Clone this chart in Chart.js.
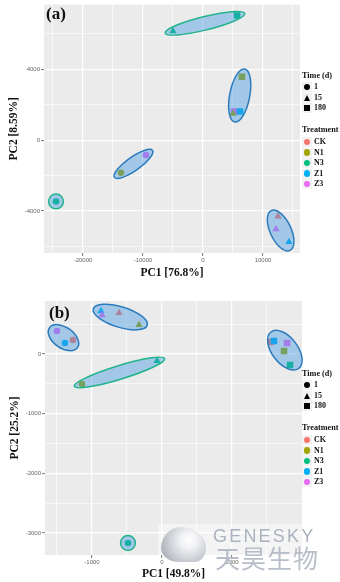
<!DOCTYPE html>
<html>
<head>
<meta charset="utf-8">
<script src="https://cdn.jsdelivr.net/npm/chart.js@4.4.1/dist/chart.umd.min.js"></script>
<style>
  html, body { margin: 0; padding: 0; background: #fff; }
  #page { position: relative; width: 340px; height: 582px; overflow: hidden; }
  canvas { position: absolute; left: 0; }
  .tag { position: absolute; font: bold 17px "Liberation Serif", serif; color: #111; line-height: 17px; }
  .lg { position: absolute; left: 302px; width: 40px; font-family: "Liberation Serif", serif; font-weight: bold; color: #111; }
  .lgTitle { position: absolute; left: 0; white-space: nowrap; font-size: 8.2px; line-height: 10px; }
  .lgItem { position: absolute; left: 0; height: 10px; white-space: nowrap; font-size: 8px; line-height: 10px; }
  .lgItem span { position: absolute; left: 12px; top: 0; }
  .key { position: absolute; left: 0; top: 0; width: 10px; height: 10px; background: #f2f2f2; }
  .key i { position: absolute; display: block; }
  #wmBox { position: absolute; left: 158px; top: 524px; width: 144px; height: 31px; background: rgba(255,255,255,0.45); }
  #wmLogo { position: absolute; left: 161px; top: 527px; width: 45px; height: 35px;
    border-radius: 45% 55% 25% 40% / 60% 60% 40% 40%;
    background: radial-gradient(circle at 62% 38%, #ffffff 0, #f2f3f5 22%, #c9ccd2 55%, #8f949c 100%); opacity: 0.9; }
  #wmEn { position: absolute; left: 213px; top: 526px; font: 18px "Liberation Sans", sans-serif; letter-spacing: 2.2px; color: #aab2bf; line-height: 20px; }
  #wmCn { position: absolute; left: 215px; top: 543px; font: 25px "Noto Sans CJK SC", sans-serif; color: #b7bec9; line-height: 28px; letter-spacing: 1px; }
</style>
</head>
<body>
<div id="page">
  <canvas id="chartA" width="340" height="286" style="top:0"></canvas>
  <canvas id="chartB" width="340" height="292" style="top:290px"></canvas>
  <div class="tag" style="left:46px;top:5px">(a)</div>
  <div class="tag" style="left:49px;top:304px">(b)</div>
  <div id="wmBox"></div>
  <div id="wmLogo"></div>
  <div id="wmEn">GENESKY</div>
  <div id="wmCn">天昊生物</div>
</div>
<script>
// legend categories
var treatments = ['CK', 'N1', 'N3', 'Z1', 'Z3'];
var treatColors = ['#F8766D', '#A3A500', '#00BF7D', '#00B0F6', '#E76BF3'];
var times = ['1', '15', '180'];
var timeShapes = ['circle', 'triangle', 'rect'];

// panel (a) samples
var aPC1 = [-5000, 5670, 6500, 5170, 5000, 6170, -13670, -9500, -24500, 12500, 12170, 14330];
var aPC2 = [6150, 7040, 3580, 1620, 1500, 1620, -1840, -840, -3460, -4300, -5030, -5750];
var aTreat = ['N3', 'N3', 'N1', 'Z3', 'N1', 'Z1', 'N1', 'Z3', 'N3', 'CK', 'Z3', 'Z1'];
var aTime = ['15', '180', '180', '180', '15', '180', '1', '1', '1', '15', '15', '15'];
var aGroups = [[0, 1], [2, 3, 4, 5], [6, 7], [8], [9, 10, 11]];
// panel (a) axis breaks (labelled / minor grid)
var aXLabels = [-20000, -10000, 0, 10000];
var aXMinor = [-25000, -15000, -5000, 5000, 15000];
var aYLabels = [-4000, 0, 4000];
var aYMinor = [-6000, -2000, 2000, 6000];

// panel (b) samples
var bPC1 = [-1500, -1386, -1271, -871, -857, -614, -329, -1143, -71, 1557, 1600, 1786, 1743, 1829, -486];
var bPC2 = [385, 184, 234, 720, 653, 687, 486, -502, -117, 201, 218, 184, 50, -184, -3166];
var bTreat = ['Z3', 'Z1', 'CK', 'Z1', 'Z3', 'CK', 'N1', 'N1', 'N3', 'CK', 'Z1', 'Z3', 'N1', 'N3', 'N3'];
var bTime = ['1', '1', '1', '15', '15', '15', '15', '1', '15', '180', '180', '180', '180', '180', '1'];
var bGroups = [[0, 1, 2], [3, 4, 5, 6], [7, 8], [9, 10, 11, 12, 13], [14]];
// panel (b) axis breaks
var bXLabels = [-1000, 0, 1000];
var bXMinor = [-1500, -500, 500, 1500];
var bYLabels = [-3000, -2000, -1000, 0];
var bYMinor = [-2500, -1500, -500, 500];

var BLUE = '#2b7bbd', GREEN = '#20b38c';
var aGroupStroke = [GREEN, BLUE, BLUE, GREEN, BLUE];
var bGroupStroke = [BLUE, BLUE, GREEN, BLUE, GREEN];
var shapeRadius = { circle: 3.3, triangle: 4.2, rect: 4.6 };

function makeDataset(pc1, pc2, treat, time) {
  var pts = [], styles = [], radii = [], cols = [];
  for (var i = 0; i < pc1.length; i++) {
    var shape = timeShapes[times.indexOf(time[i])];
    pts.push({ x: pc1[i], y: pc2[i] });
    styles.push(shape);
    radii.push(shapeRadius[shape]);
    cols.push(treatColors[treatments.indexOf(treat[i])]);
  }
  return {
    data: pts, pointStyle: styles, pointRadius: radii,
    pointBackgroundColor: cols, pointBorderWidth: 0, showLine: false
  };
}

// ellipses drawn over the points, sized from the member points
function makeEllipsePlugin(groups, strokes) {
  return {
    id: 'ellipses',
    afterDatasetsDraw: function(chart) {
      var xs = chart.scales.x, ys = chart.scales.y, ctx = chart.ctx;
      var d = chart.data.datasets[0].data;
      groups.forEach(function(g, k) {
        var px = [], py = [], n = g.length, mx = 0, my = 0;
        g.forEach(function(i) {
          px.push(xs.getPixelForValue(d[i].x));
          py.push(ys.getPixelForValue(d[i].y));
        });
        for (var i = 0; i < n; i++) { mx += px[i] / n; my += py[i] / n; }
        var sxx = 0, syy = 0, sxy = 0;
        for (i = 0; i < n; i++) {
          sxx += (px[i] - mx) * (px[i] - mx);
          syy += (py[i] - my) * (py[i] - my);
          sxy += (px[i] - mx) * (py[i] - my);
        }
        var ang = n > 1 ? 0.5 * Math.atan2(2 * sxy, sxx - syy) : 0;
        var c = Math.cos(ang), s = Math.sin(ang);
        var u = [], v = [];
        for (i = 0; i < n; i++) {
          var dx = px[i] - mx, dy = py[i] - my;
          u.push(dx * c + dy * s);
          v.push(-dx * s + dy * c);
        }
        var uMin = Math.min.apply(null, u), uMax = Math.max.apply(null, u);
        var vMin = Math.min.apply(null, v), vMax = Math.max.apply(null, v);
        var uc = (uMin + uMax) / 2, vc = (vMin + vMax) / 2;
        var cx = mx + uc * c - vc * s, cy = my + uc * s + vc * c;
        var a = (uMax - uMin) / 2 + 8, b = (vMax - vMin) / 2 + 6.8;
        if (n === 1) { a = 7.4; b = 7.4; }
        ctx.save();
        ctx.beginPath();
        ctx.ellipse(cx, cy, a, b, ang, 0, 2 * Math.PI);
        ctx.fillStyle = 'rgba(60,150,225,0.41)';
        ctx.fill();
        ctx.lineWidth = 1.5;
        ctx.strokeStyle = strokes[k];
        ctx.stroke();
        ctx.restore();
      });
    }
  };
}

var panelBg = {
  id: 'panelBg',
  beforeDraw: function(chart) {
    var a = chart.chartArea, ctx = chart.ctx;
    ctx.save();
    ctx.fillStyle = '#ebebeb';
    ctx.fillRect(a.left, a.top, a.right - a.left, a.bottom - a.top);
    ctx.restore();
  }
};

function makeScale(pos, min, max, labels, minor, title, size, titlePad) {
  var major = function(c) { return c.tick && labels.indexOf(c.tick.value) >= 0; };
  return {
    type: 'linear', position: pos, min: min, max: max,
    border: { display: false },
    grid: {
      color: '#ffffff',
      lineWidth: function(c) { return major(c) ? 1.2 : 0.6; },
      tickLength: 3,
      tickColor: function(c) { return major(c) ? '#555' : 'rgba(0,0,0,0)'; },
      tickWidth: 0.8
    },
    ticks: {
      autoSkip: false, maxRotation: 0, padding: 1,
      color: '#666', font: { family: 'Liberation Sans', size: 6 },
      callback: function(v) { return labels.indexOf(v) >= 0 ? String(v) : ''; }
    },
    title: {
      display: true, text: title, color: '#111', padding: titlePad,
      font: { family: 'Liberation Serif', size: 11.5, weight: 'bold' }
    },
    afterBuildTicks: function(s) {
      s.ticks = labels.concat(minor).sort(function(p, q) { return p - q; })
        .map(function(v) { return { value: v }; });
    },
    afterFit: function(s) {
      if (pos === 'left') s.width = size; else s.height = size;
      s.paddingTop = 0; s.paddingBottom = 0; s.paddingLeft = 0; s.paddingRight = 0;
    }
  };
}

function makeChart(id, ds, groups, strokes, pad, xs, ys) {
  return new Chart(document.getElementById(id).getContext('2d'), {
    type: 'scatter',
    data: { datasets: [ds] },
    options: {
      responsive: false, animation: false, devicePixelRatio: 1, events: [],
      layout: { padding: pad },
      plugins: { legend: { display: false }, tooltip: { enabled: false } },
      scales: { x: xs, y: ys }
    },
    plugins: [panelBg, makeEllipsePlugin(groups, strokes)]
  });
}

makeChart('chartA', makeDataset(aPC1, aPC2, aTreat, aTime), aGroups, aGroupStroke,
  { left: 0, right: 40, top: 2, bottom: 0 },
  makeScale('bottom', -26500, 16170, aXLabels, aXMinor, 'PC1 [76.8%]', 33, { top: 0, bottom: 6 }),
  makeScale('left', -6370, 7650, aYLabels, aYMinor, 'PC2 [8.59%]', 44, { top: 7, bottom: 0 }));

makeChart('chartB', makeDataset(bPC1, bPC2, bTreat, bTime), bGroups, bGroupStroke,
  { left: 1, right: 38, top: 11, bottom: 0 },
  makeScale('bottom', -1671, 2000, bXLabels, bXMinor, 'PC1 [49.8%]', 27, { top: 0, bottom: 1 }),
  makeScale('left', -3367, 888, bYLabels, bYMinor, 'PC2 [25.2%]', 44, { top: 7, bottom: 0 }));

// ggplot-style legends
function keySymbol(shape, color) {
  var el = document.createElement('i');
  if (shape === 'triangle') {
    el.style.cssText = 'left:1.5px;top:2px;width:0;height:0;border-left:3.5px solid transparent;' +
      'border-right:3.5px solid transparent;border-bottom:6px solid ' + color;
  } else if (shape === 'rect') {
    el.style.cssText = 'left:2px;top:2px;width:6px;height:6px;background:' + color;
  } else {
    el.style.cssText = 'left:1.75px;top:1.75px;width:6.5px;height:6.5px;border-radius:50%;background:' + color;
  }
  return el;
}

function addItem(box, centerY, shape, color, label) {
  var it = document.createElement('div');
  it.className = 'lgItem';
  it.style.top = (centerY - 5) + 'px';
  var key = document.createElement('div');
  key.className = 'key';
  key.appendChild(keySymbol(shape, color));
  it.appendChild(key);
  var sp = document.createElement('span');
  sp.textContent = label;
  it.appendChild(sp);
  box.appendChild(it);
}

function addTitle(box, centerY, text) {
  var t = document.createElement('div');
  t.className = 'lgTitle';
  t.style.top = (centerY - 5) + 'px';
  t.textContent = text;
  box.appendChild(t);
}

function buildLegend(top) {
  var box = document.createElement('div');
  box.className = 'lg';
  box.style.top = top + 'px';
  addTitle(box, 0, 'Time (d)');
  times.forEach(function(t, i) { addItem(box, 11 + 10.5 * i, timeShapes[i], '#000', t); });
  addTitle(box, 54, 'Treatment');
  treatments.forEach(function(t, i) { addItem(box, 66 + 10.5 * i, 'circle', treatColors[i], t); });
  document.getElementById('page').insertBefore(box, document.getElementById('wmBox'));
}

buildLegend(76);
buildLegend(374);
</script>
</body>
</html>
